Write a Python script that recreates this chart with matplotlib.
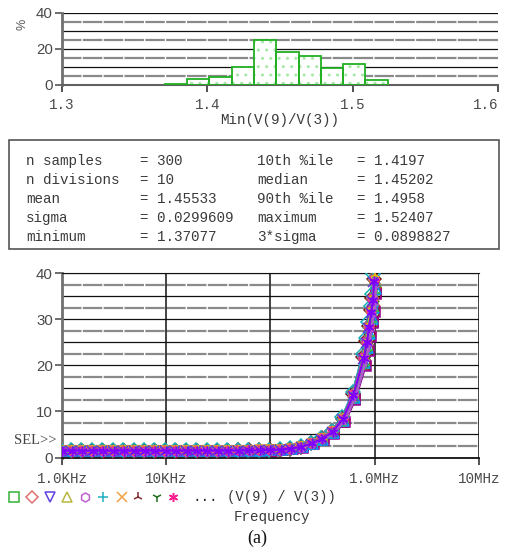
import numpy as np
import matplotlib
matplotlib.use("Agg")
import matplotlib.pyplot as plt
from matplotlib.lines import Line2D
from matplotlib.patches import Rectangle

plt.rcParams['lines.scale_dashes'] = False

# ---- Monte Carlo summary of Min(V(9)/V(3)) ----
n_samples = 300
n_divisions = 10
stat_min = 1.37077
stat_max = 1.52407
bin_counts = [1, 9, 12, 30, 75, 54, 48, 28, 35, 8]

stats_left = [("n samples", "= 300"), ("n divisions", "= 10"), ("mean", "= 1.45533"),
              ("sigma", "= 0.0299609"), ("minimum", "= 1.37077")]
stats_right = [("10th %ile", "= 1.4197"), ("median", "= 1.45202"), ("90th %ile", "= 1.4958"),
               ("maximum", "= 1.52407"), ("3*sigma", "= 0.0898827")]

# ---- nominal V(9)/V(3) response vs frequency ----
freq = [1.0e3, 1.26e3, 1.58e3, 2.0e3, 2.51e3, 3.16e3, 3.98e3, 5.01e3, 6.31e3, 7.94e3,
        1.0e4, 1.26e4, 1.58e4, 2.0e4, 2.51e4, 3.16e4, 3.98e4, 5.01e4, 6.31e4, 7.94e4,
        1.0e5, 1.26e5, 1.58e5, 2.0e5, 2.51e5, 3.16e5, 3.98e5, 5.01e5, 6.31e5, 7.94e5,
        8.5e5, 8.9e5, 9.4e5, 9.7e5, 1.0e6]
ratio = [1.45, 1.45, 1.45, 1.45, 1.45, 1.45, 1.45, 1.45, 1.45, 1.45,
         1.45, 1.45, 1.45, 1.45, 1.46, 1.46, 1.47, 1.48, 1.50, 1.53,
         1.57, 1.65, 1.85, 2.3, 3.0, 4.0, 5.5, 8.2, 13.3, 21.2,
         24.5, 27.7, 31.0, 33.5, 37.6]

# per-run spread of the Monte Carlo traces
run_gain = [0.95, 1.03, 0.98, 1.05, 0.97, 1.01, 0.96, 1.04, 0.99, 1.02,
            0.94, 1.06, 1.00, 0.97, 1.03, 0.95, 1.01, 1.05, 0.98, 1.02]
run_fshift = [1.02, 0.98, 1.01, 0.97, 1.03, 0.99, 1.02, 0.98, 1.00, 1.01,
              1.03, 0.97, 0.99, 1.02, 0.98, 1.01, 0.97, 1.00, 1.03, 0.99]

run_colors = ['#800000', '#7a1e1e', '#1e6e1e', '#7f7f7f', '#c04000', '#a8a800',
              '#2aa52a', '#e06868', '#3434ff', '#b4b432', '#9a009a', '#18b0b8',
              '#f09a30', '#00a0ff', '#ff2a96', '#40c040', '#5a3ae0', '#e0c000',
              '#b458d2', '#8000ff']
run_markers = ['s', 'D', 'v', '^', 'h', '+', 'x', '2', '1', (6, 2, 0)]

W, H = 507, 556
fig = plt.figure(figsize=(W / 100, H / 100), dpi=100)


def px_axes(l, t, r, b):
    return fig.add_axes([l / W, 1 - b / H, (r - l) / W, (b - t) / H])


def fx(x):
    return x / W


def fy(y):
    return 1 - y / H


mono = 'Liberation Mono'
sans = 'Liberation Sans'
serif = 'Liberation Serif'
tick_col = '#4a4a4a'
text_col = '#3a3a3a'


def draw_hgrid(ax, step, lo, hi, x0, x1):
    vals = np.arange(lo, hi + step / 2, step)
    for k, v in enumerate(vals):
        if k % 2 == 0:
            ax.plot([x0, x1], [v, v], color='#111111', lw=0.9, zorder=1)
        else:
            ax.plot([x0, x1], [v, v], color='#8a8a8a', lw=1.6, zorder=1,
                    dashes=(14, 1))


# ---- histogram ----
ax1 = px_axes(62, 12.5, 498, 84.5)
edges = np.linspace(stat_min, stat_max, n_divisions + 1)
pct = np.array(bin_counts) / n_samples * 100
draw_hgrid(ax1, 5, 0, 40, 1.3, 1.6)
ax1.bar(edges[:-1], pct, width=np.diff(edges), align='edge', facecolor='white',
        edgecolor='#a8e8a8', hatch='..', linewidth=0, zorder=2)
ax1.bar(edges[:-1], pct, width=np.diff(edges), align='edge', facecolor='none',
        edgecolor='#22b022', linewidth=1.3, zorder=3)
ax1.set_xlim(1.3, 1.6)
ax1.set_ylim(0, 40)
ax1.set_xticks([1.3, 1.4, 1.5, 1.6])
ax1.set_xticklabels(['1.3', '1.4', '1.5', '1.6'], fontfamily=mono, fontsize=10.3)
ax1.get_xticklabels()[-1].set_horizontalalignment('right')
ax1.set_yticks([0, 20, 40])
ax1.set_yticklabels(['0', '20', '40'], fontfamily=sans, fontsize=10.8)
for s in ['top', 'right']:
    ax1.spines[s].set_visible(False)
ax1.spines['left'].set_color('#707070')
ax1.spines['left'].set_linewidth(2)
ax1.spines['bottom'].set_color('#606060')
ax1.spines['bottom'].set_linewidth(1.5)
ax1.tick_params(axis='x', length=5, width=1.2, color='#333333', pad=4.5, labelcolor=tick_col)
ax1.tick_params(axis='y', length=5, width=1.2, color='#555555', pad=1.5, labelcolor=tick_col)
ax1.set_xlabel('Min(V(9)/V(3))', fontfamily=mono, fontsize=10.3, color=text_col, labelpad=1)
fig.text(fx(22), fy(24), '%', rotation=90, fontfamily=sans, fontsize=9,
         color='#555555', ha='center', va='center')

# ---- statistics box ----
fig.add_artist(Rectangle((fx(9), fy(249)), fx(499) - fx(9), fy(140) - fy(249),
                         transform=fig.transFigure, facecolor='white',
                         edgecolor='#555555', linewidth=1.2))
row_y = [161, 180, 199, 218, 237]
for k in range(5):
    for xp, s in [(26, stats_left[k][0]), (140, stats_left[k][1]),
                  (257, stats_right[k][0]), (357, stats_right[k][1])]:
        fig.text(fx(xp), fy(row_y[k]), s, fontfamily=mono, fontsize=10.3,
                 color=text_col, va='center')

# ---- frequency response ----
ax2 = px_axes(62, 273, 479, 457.5)
ax2.set_xscale('log')
draw_hgrid(ax2, 2.5, 0, 40, 1e3, 1e7)
for d in [1e4, 1e5, 1e6, 1e7]:
    ax2.axvline(d, color='#111111', lw=1.1, zorder=1)
f_nom = np.array(freq)
v_nom = np.array(ratio)
for k in range(len(run_gain)):
    ax2.plot(f_nom * run_fshift[k], v_nom * run_gain[k], color=run_colors[k], lw=1.6,
             marker=run_markers[k % len(run_markers)], ms=7, mfc='none', mew=1.1,
             zorder=3)
ax2.set_xlim(1e3, 1e7)
ax2.set_ylim(0, 40)
ax2.set_xticks([1e3, 1e4, 1e6, 1e7])
ax2.set_xticklabels(['1.0KHz', '10KHz', '1.0MHz', '10MHz'], fontfamily=mono, fontsize=10.3)
ax2.xaxis.set_minor_locator(matplotlib.ticker.NullLocator())
ax2.set_yticks([0, 10, 20, 30, 40])
ax2.set_yticklabels(['0', '10', '20', '30', '40'], fontfamily=sans, fontsize=10.8)
ax2.spines['left'].set_color('#707070')
ax2.spines['left'].set_linewidth(2)
ax2.spines['right'].set_visible(False)
ax2.spines['top'].set_color('#111111')
ax2.spines['bottom'].set_color('#111111')
ax2.spines['bottom'].set_linewidth(1.3)
ax2.tick_params(axis='x', length=5, width=1.2, color='#333333', pad=5.5, labelcolor=tick_col)
ax2.tick_params(axis='y', length=5, width=1.2, color='#555555', pad=1.5, labelcolor=tick_col)
fig.text(fx(35), fy(441), 'SEL>>', fontfamily=serif, fontsize=10.5, color='#444444',
         ha='center', va='center')

# trace legend row
legend_x = [14, 32, 50, 67, 85, 103, 122, 138, 157, 173]
legend_col = ['#34b034', '#e07070', '#6040e0', '#b8b840', '#c060d0', '#20b0c0',
              '#f0a040', '#803030', '#207020', '#ff2090']
for k in range(10):
    fig.add_artist(Line2D([fx(legend_x[k])], [fy(497)], transform=fig.transFigure,
                          marker=run_markers[k], ms=6.5, mfc='none', mew=1.1,
                          color=legend_col[k], linestyle='none'))
fig.text(fx(193), fy(497), '...', fontfamily=mono, fontsize=10.3, color='#222222',
         va='center')
fig.text(fx(227), fy(497), '(V(9) / V(3))', fontfamily=mono, fontsize=10,
         color=text_col, va='center')
fig.text(fx(272), fy(517), 'Frequency', fontfamily=mono, fontsize=10.3, color=text_col,
         ha='center', va='center')
fig.text(fx(257), fy(538), '(a)', fontfamily=serif, fontsize=13, color='#111111',
         ha='center', va='center')

fig.savefig('out.png', dpi=100)
